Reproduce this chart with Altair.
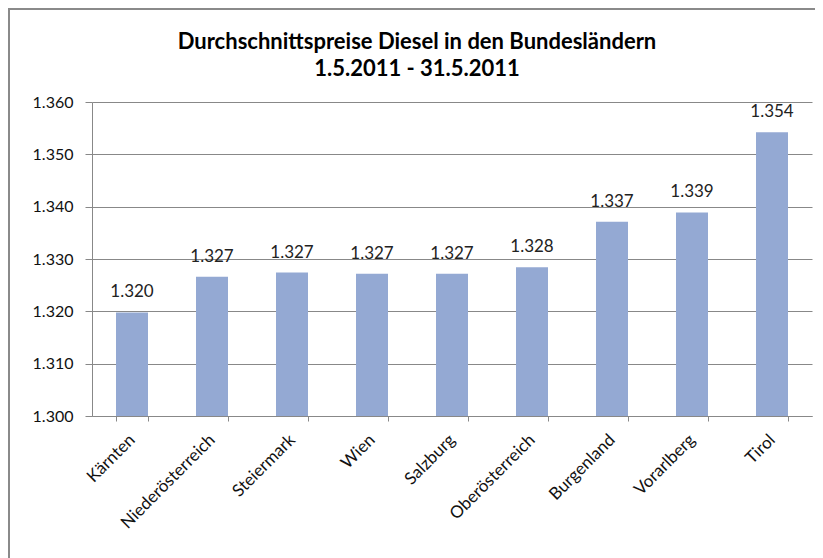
import altair as alt
import pandas as pd

laender = ["Kärnten", "Niederösterreich", "Steiermark", "Wien", "Salzburg",
           "Oberösterreich", "Burgenland", "Vorarlberg", "Tirol"]
preise = [1.3198, 1.3266, 1.3274, 1.3272, 1.3272, 1.3284, 1.3371, 1.3389, 1.3542]
y_ticks = [1.30, 1.31, 1.32, 1.33, 1.34, 1.35, 1.36]
title_lines = ["Durchschnittspreise Diesel in den Bundesländern", "1.5.2011 - 31.5.2011"]

df = pd.DataFrame({"Land": laender, "Preis": preise})

FONT = "Lato"
W, H = 720, 314

x_enc = alt.X("Land:N", sort=laender, title=None,
              scale=alt.Scale(paddingInner=0.6, paddingOuter=0.3),
              axis=alt.Axis(labelAngle=-45, labelAlign="right", labelBaseline="middle",
                            labelFontSize=17, labelColor="#111", labelFont=FONT,
                            tickBand="extent", tickSize=5, tickColor="#888",
                            domainColor="#888", labelPadding=16, grid=False))
y_enc = alt.Y("Preis:Q", title=None,
              scale=alt.Scale(domain=[1.30, 1.36], zero=False, nice=False),
              axis=alt.Axis(values=y_ticks, format=".3f", labelFontSize=16,
                            labelColor="#111", labelFont=FONT, tickSize=7,
                            tickColor="#888", domainColor="#888", gridColor="#888",
                            labelPadding=12))

base = alt.Chart(df)
bars = base.mark_bar(color="#94A9D3", size=32, clip=True).encode(x=x_enc, y=y_enc)
labels = base.mark_text(dy=-20, fontSize=17, font=FONT, color="#222").encode(
    x=alt.X("Land:N", sort=laender), y="Preis:Q", text=alt.Text("Preis:Q", format=".3f"))
# chart frame: left and top edges; they run past the right and bottom of the picture
frame_top = base.mark_rect(fill="#8a8a8a", strokeWidth=0, clip=False).encode(
    x=alt.value(-84), x2=alt.value(W + 40), y=alt.value(-94), y2=alt.value(-92.5))
frame_left = base.mark_rect(fill="#8a8a8a", strokeWidth=0, clip=False).encode(
    x=alt.value(-84), x2=alt.value(-82.5), y=alt.value(-94), y2=alt.value(H + 180))

chart = alt.layer(bars, labels, frame_top, frame_left).properties(
    width=W, height=H,
    title=alt.Title(title_lines, anchor="middle", frame="group", dx=-35, fontSize=22,
                    font=FONT, fontWeight="bold", color="#000", lineHeight=27, offset=-73),
    autosize=alt.AutoSizeParams(type="none"),
    padding={"left": 84, "top": 94, "right": 3, "bottom": 142},
).configure_view(stroke=None).configure_axis(grid=True)

chart.save("out.html", embed_options={"renderer": "svg", "actions": False})
